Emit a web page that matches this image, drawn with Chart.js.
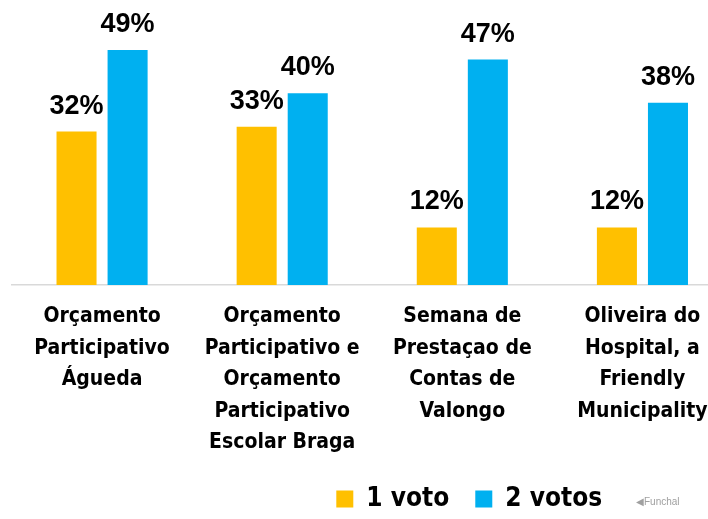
<!DOCTYPE html>
<html>
<head>
<meta charset="utf-8">
<script src="https://cdn.jsdelivr.net/npm/chart.js@4/dist/chart.umd.min.js"></script>
<style>
  html, body { margin: 0; padding: 0; background: #fff; overflow: hidden; }
  #wrap { position: relative; width: 745px; height: 519px; }
  #funchal { position: absolute; left: 636px; top: 496px; font: 10px "Liberation Sans", sans-serif; color: #a0a0a0; }
</style>
</head>
<body>
<div id="wrap">
  <canvas id="chart"></canvas>
  <div id="funchal">&#9664;Funchal</div>
</div>
<script>
  /*
    ==================================================
    ====================== DATOS ======================
    ==================================================
  */

  let categorias = [
    ['Orçamento', 'Participativo', 'Águeda'],
    ['Orçamento', 'Participativo e', 'Orçamento', 'Participativo', 'Escolar Braga'],
    ['Semana de', 'Prestaçao de', 'Contas de', 'Valongo'],
    ['Oliveira do', 'Hospital, a', 'Friendly', 'Municipality']
  ];
  let unVoto = [32, 33, 12, 12];
  let dosVotos = [49, 40, 47, 38];
  let series = ['1 voto', '2 votos'];

  let fuenteEstrecha = '"DejaVu Sans Condensed", "DejaVu Sans", sans-serif';
  let fuente = '"Liberation Sans", sans-serif';

  /*
    ==================================================
    ===================== PLUGINS =====================
    ==================================================
  */

  // porcentajes encima de cada barra
  let etiquetas = {
    id: 'etiquetas',
    afterDatasetsDraw(chart) {
      let ctx = chart.ctx;
      ctx.save();
      ctx.font = `bold 27px ${fuente}`;
      ctx.fillStyle = '#000';
      ctx.textAlign = 'center';
      ctx.textBaseline = 'alphabetic';
      chart.data.datasets.forEach((ds, i) => {
        chart.getDatasetMeta(i).data.forEach((bar, j) => {
          ctx.fillText(`${ds.data[j]}%`, bar.x, bar.y - 18);
        });
      });
      ctx.restore();
    }
  };

  // la leyenda no esta centrada en el original
  let moverLeyenda = {
    id: 'moverLeyenda',
    afterLayout(chart) {
      chart.legend.left += 97;
      chart.legend.right += 97;
      chart.legend.top += 3;
      chart.legend.bottom += 3;
    }
  };

  /*
    ==================================================
    ====================== CHART ======================
    ==================================================
  */

  new Chart(document.getElementById('chart').getContext('2d'), {
    type: 'bar',
    data: {
      labels: categorias,
      datasets: [{
        label: series[0],
        data: unVoto,
        backgroundColor: '#FFC000',
        borderWidth: 0
      }, {
        label: series[1],
        data: dosVotos,
        backgroundColor: '#00B0F0',
        borderWidth: 0
      }]
    },
    options: {
      responsive: true,
      maintainAspectRatio: false,
      animation: false,
      categoryPercentage: 0.567,
      barPercentage: 0.784,
      layout: { padding: { left: 12, right: 12.5, top: 2, bottom: 0 } },
      plugins: {
        tooltip: { enabled: false },
        legend: {
          position: 'bottom',
          labels: {
            boxWidth: 17,
            boxHeight: 17,
            padding: 26,
            color: '#000',
            font: { family: fuenteEstrecha, size: 26, weight: 'bold' }
          }
        }
      },
      scales: {
        x: {
          grid: { display: false, drawTicks: false },
          border: { color: '#d9d9d9', width: 1.5 },
          afterFit: scale => { scale.height = 172; },
          ticks: {
            color: '#000',
            padding: 16,
            maxRotation: 0,
            autoSkip: false,
            font: { family: fuenteEstrecha, size: 21, weight: 'bold', lineHeight: 1.5 }
          }
        },
        y: {
          display: false,
          min: 0,
          max: 59
        }
      }
    },
    plugins: [etiquetas, moverLeyenda]
  });
</script>
</body>
</html>
